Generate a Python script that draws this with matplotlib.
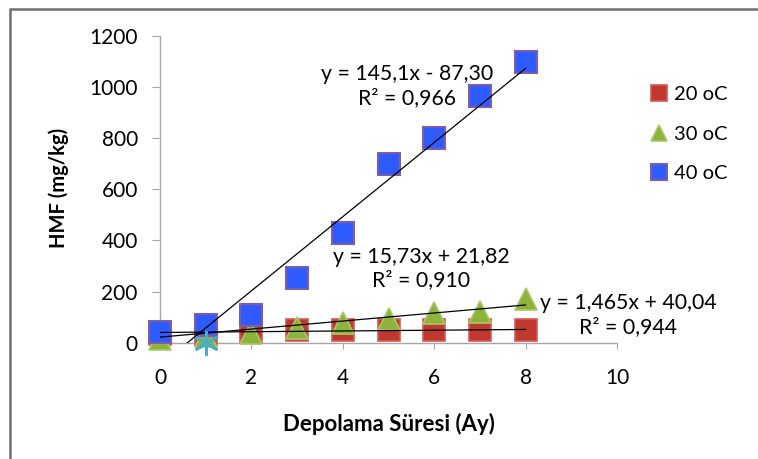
import numpy as np
import matplotlib
matplotlib.use("Agg")
import matplotlib.pyplot as plt
from matplotlib.patches import Rectangle

plt.rcParams['font.family'] = ['Lato', 'DejaVu Sans']

# veriler
ay = [0, 1, 2, 3, 4, 5, 6, 7, 8]
hmf_20 = [35, 30, 43, 50, 50, 50, 50, 50, 51]
hmf_30 = [15, 25, 37, 56, 76, 92, 118, 122, 170]
hmf_40 = [43, 69, 110, 255, 431, 699, 801, 967, 1099]
yildiz_x = [1]
yildiz_y = [0]

# trend çizgileri (katsayılar grafikteki denklemlerden)
trend_20 = (1.465, 40.04)
trend_30 = (15.73, 21.82)
trend_40 = (145.1, -87.30)

fig = plt.figure(figsize=(7.58, 4.59), dpi=100)
ax = fig.add_axes([0.2111, 0.2534, 0.6029, 0.6682])

ax.plot(ay, hmf_20, 's', ms=16, mfc='#C0392F', mec='#D45A55', mew=1.2,
        label='20 oC', clip_on=False, zorder=3)
ax.plot(ay, hmf_30, '^', ms=16, mfc='#8DB33A', mec='#A8C76A', mew=1.2,
        label='30 oC', clip_on=False, zorder=4)
ax.plot(ay, hmf_40, 's', ms=16, mfc='#2E5BFF', mec='#7B5EA7', mew=1.5,
        label='40 oC', clip_on=False, zorder=5)
ax.plot(yildiz_x, yildiz_y, marker=(6, 2, 0), ls='none', ms=18,
        mec='#4BACC6', mew=2, clip_on=False, zorder=7)

xt = np.array([0, 8])
for a, b in (trend_20, trend_30, trend_40):
    ax.plot(xt, a * xt + b, color='black', lw=0.9, zorder=6)

ax.set_xlim(0, 10)
ax.set_ylim(0, 1200)
ax.set_xticks(range(0, 11, 2))
ax.set_yticks(range(0, 1201, 200))

for s in ('top', 'right'):
    ax.spines[s].set_visible(False)
for s in ('left', 'bottom'):
    ax.spines[s].set_color('#A6A6A6')
    ax.spines[s].set_linewidth(1)
ax.tick_params(axis='y', length=6, color='#A6A6A6', pad=10, labelsize=15)
ax.tick_params(axis='x', length=4.5, color='#A6A6A6', pad=14, labelsize=15)

# denklemler
esit = dict(ha='center', va='center', fontsize=15.3, linespacing=1.2,
            zorder=8, clip_on=False)
ax.text(5.4, 1004, 'y = 145,1x - 87,30\nR² = 0,966', **esit)
ax.text(5.71, 289, 'y = 15,73x + 21,82\nR² = 0,910', **esit)
ax.text(10.24, 108, 'y = 1,465x + 40,04\nR² = 0,944', **esit)

fig.text(389 / 758, 1 - 424 / 459, 'Depolama Süresi (Ay)', ha='center',
         va='center', fontsize=16, fontweight='bold')
fig.text(59 / 758, 1 - 188 / 459, 'HMF (mg/kg)', ha='center', va='center',
         rotation=90, fontsize=14.5, fontweight='bold')

ax.legend(loc='upper left', bbox_to_anchor=(640 / 758, 1 - 76 / 459),
          bbox_transform=fig.transFigure, frameon=False, fontsize=14.5,
          markerscale=0.72, handlelength=0.9, handletextpad=0.3,
          labelspacing=1.12, borderpad=0)

fig.add_artist(Rectangle((10 / 758, -0.1), 1.2, 1 - 9 / 459 + 0.1,
                         transform=fig.transFigure, fill=False,
                         ec='#6E6E6E', lw=1.8, clip_on=False))

fig.savefig('out.png', dpi=100)
